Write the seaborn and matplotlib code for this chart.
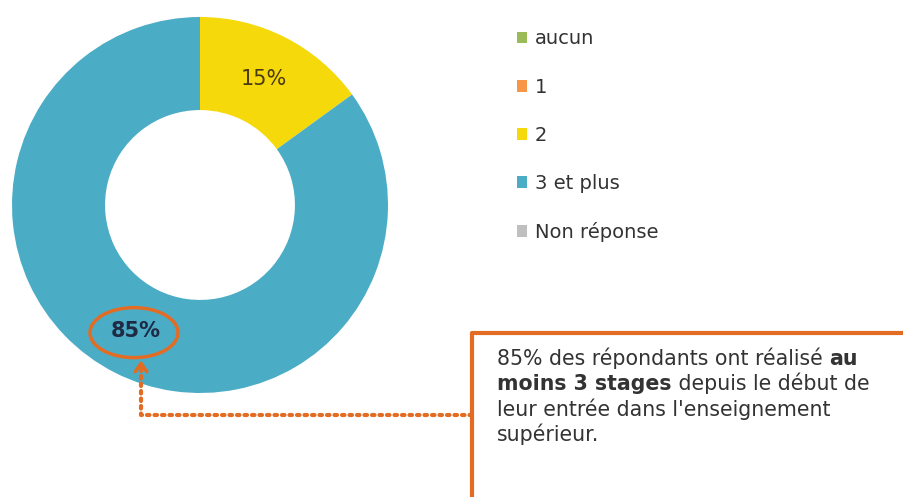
import matplotlib
matplotlib.use("Agg")
import matplotlib.pyplot as plt
import seaborn as sns
from matplotlib.patches import Ellipse, Patch

categories = ["aucun", "1", "2", "3 et plus", "Non réponse"]
values = [0, 0, 15, 85, 0]
colors = ["#9BBB59", "#F79646", "#F5D90A", "#4BACC6", "#BFBFBF"]
label_colors = ["#333333", "#333333", "#4A3A10", "#1F2A44", "#333333"]
note_normal_1 = "85% des répondants ont réalisé "
note_bold_1 = "au"
note_bold_2 = "moins 3 stages"
note_normal_2 = " depuis le début de"
note_lines = ["leur entrée dans l'enseignement", "supérieur."]

sns.set_theme(style="white")
plt.rcParams["font.family"] = ["DejaVu Sans"]
palette = sns.color_palette(colors)

W, H = 904, 497
fig = plt.figure(figsize=(W / 100, H / 100), dpi=100)

# donut
cx, cy, r = 200, 205, 188
ax = fig.add_axes([(cx - r) / W, (H - cy - r) / H, 2 * r / W, 2 * r / H])
wedges, _, autotexts = ax.pie(
    values, colors=palette, startangle=90, counterclock=False,
    autopct=lambda p: f"{p:.0f}%" if p > 0 else "", pctdistance=0.75,
    wedgeprops=dict(width=0.495, edgecolor="none"),
    textprops=dict(fontsize=15),
)
for t, c, v in zip(autotexts, label_colors, values):
    t.set_color(c)
    if v == max(values):
        t.set_fontweight("bold")
ax.set_xlim(-1, 1)
ax.set_ylim(-1, 1)

# overlay in pixel coordinates for the callout
ov = fig.add_axes([0, 0, 1, 1], facecolor="none")
ov.set_xlim(0, W)
ov.set_ylim(H, 0)
ov.axis("off")
orange = "#E36C24"

big = autotexts[values.index(max(values))]
px, py = ax.transData.transform(big.get_position())
ex, ey = ov.transData.inverted().transform((px, py))
ov.add_patch(Ellipse((ex - 2, ey + 2), 88, 50, fill=False, edgecolor=orange, lw=2.5))

ax_x = ex + 5
ov.plot([472, ax_x, ax_x], [415, 415, ey + 34], color=orange, lw=3,
        linestyle=(0, (0.6, 1.2)), dash_capstyle="round")
ov.annotate("", xy=(ax_x, ey + 27), xytext=(ax_x, ey + 40),
            arrowprops=dict(arrowstyle="->,head_length=0.5,head_width=0.35",
                            color=orange, lw=2.5))

# note box
ov.plot([904, 472, 472], [333, 333, 497], color=orange, lw=3)
tc = "#333333"
fs = 14.8
y0, dy = 358, 25.5
t1 = ov.text(497, y0, note_normal_1, fontsize=fs, color=tc, va="center")
ov.annotate(note_bold_1, xy=(1, 0), xycoords=t1, va="bottom",
            fontsize=fs, color=tc, fontweight="bold")
t2 = ov.text(497, y0 + dy, note_bold_2, fontsize=fs, color=tc, va="center",
             fontweight="bold")
ov.annotate(note_normal_2, xy=(1, 0), xycoords=t2, va="bottom",
            fontsize=fs, color=tc)
for i, line in enumerate(note_lines):
    ov.text(497, y0 + dy * (2 + i), line, fontsize=fs, color=tc, va="center")

# legend
handles = [Patch(facecolor=c, edgecolor="none") for c in palette]
fig.legend(handles, categories, loc="upper left",
           bbox_to_anchor=(499 / W, 1 - 12 / H), frameon=False,
           fontsize=14, labelcolor=tc, handlelength=0.55, handleheight=0.55,
           handletextpad=0.4, labelspacing=1.5)

fig.savefig("out.png", dpi=100, facecolor="white")
